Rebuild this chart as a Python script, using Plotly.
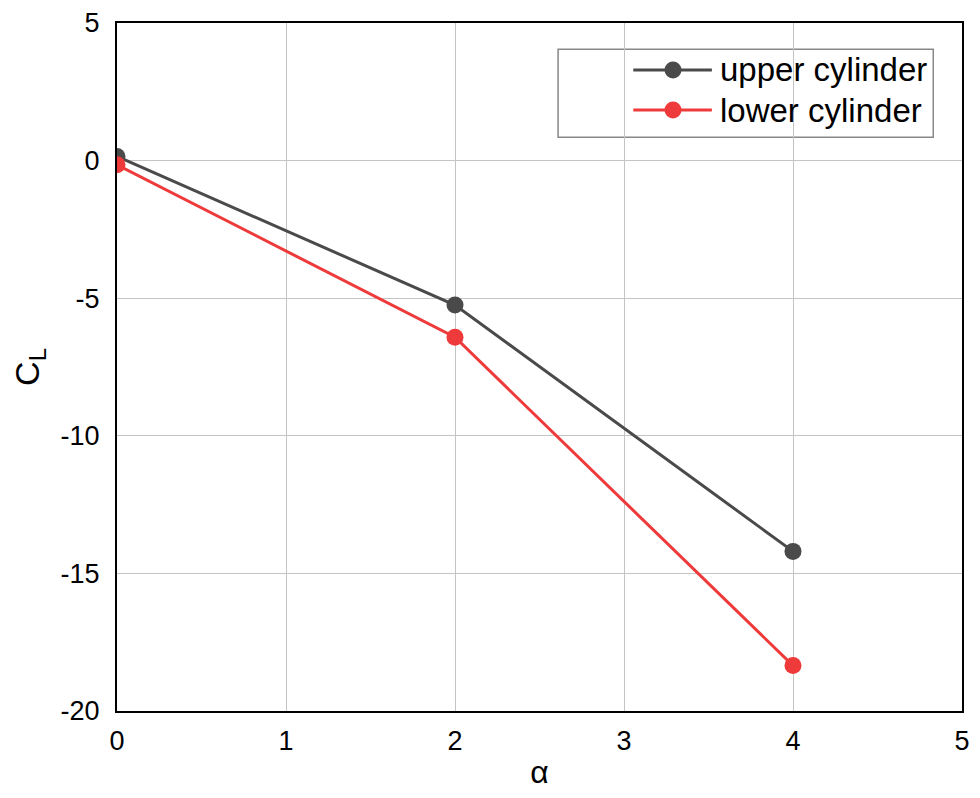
import plotly.graph_objects as go

alpha = [0, 2, 4]
upper_cl = [0.15, -5.25, -14.2]
lower_cl = [-0.15, -6.42, -18.35]
series_names = ["upper cylinder", "lower cylinder"]
series_colors = ["#4a4a4a", "#ee3a3a"]
x_ticks = [0, 1, 2, 3, 4, 5]
y_ticks = [5, 0, -5, -10, -15, -20]

FONT = "Liberation Sans, Arial"

fig = go.Figure()
for name, ys, col in zip(series_names, [upper_cl, lower_cl], series_colors):
    fig.add_trace(go.Scatter(x=alpha, y=ys, name=name, mode="lines+markers",
                             line=dict(color=col, width=3),
                             marker=dict(color=col, size=17), showlegend=False))

axis_common = dict(showline=True, linecolor="black", linewidth=2, mirror=True,
                   showgrid=True, gridcolor="#c4c4c4", gridwidth=1, zeroline=False,
                   ticks="", automargin=False, ticklabeloverflow="allow",
                   tickfont=dict(family=FONT, size=27, color="black"))
fig.update_xaxes(range=[0, 5], tickvals=x_ticks, ticktext=[str(v) for v in x_ticks],
                 ticklabelstandoff=5,
                 title=dict(text="α", font=dict(family=FONT, size=32, color="black"), standoff=14),
                 **axis_common)
fig.update_yaxes(range=[-20, 5], tickvals=y_ticks, ticktext=[str(v) for v in y_ticks],
                 ticklabelstandoff=10,
                 title=dict(text="C<sub>L</sub>", font=dict(family=FONT, size=34, color="black"), standoff=17),
                 **axis_common)

# legend box drawn manually to match the reference layout
fig.add_shape(type="rect", xref="paper", yref="paper", x0=0.522, x1=0.966, y0=0.834, y1=0.962,
              line=dict(color="#888888", width=1.5), fillcolor="white", layer="below")
row_y = [0.9317, 0.8735]
for name, col, ry in zip(series_names, series_colors, row_y):
    fig.add_shape(type="line", xref="paper", yref="paper", x0=0.611, x1=0.704, y0=ry, y1=ry,
                  line=dict(color=col, width=3))
    fig.add_shape(type="circle", xref="paper", yref="paper", xsizemode="pixel", ysizemode="pixel",
                  xanchor=0.658, yanchor=ry, x0=-8.5, x1=8.5, y0=-8.5, y1=8.5,
                  line=dict(color=col, width=0), fillcolor=col)
    fig.add_annotation(xref="paper", yref="paper", x=0.711, y=ry, text=name, showarrow=False,
                       xanchor="left", yanchor="middle",
                       font=dict(family=FONT, size=33, color="black"))

# page body has an 8px margin: size the figure to fit the 980x798 window
fig.update_layout(
    width=964, height=782,
    margin=dict(l=109, r=10, t=15, b=79),
    paper_bgcolor="white", plot_bgcolor="white",
    showlegend=False,
)
fig.write_html("out.html")
